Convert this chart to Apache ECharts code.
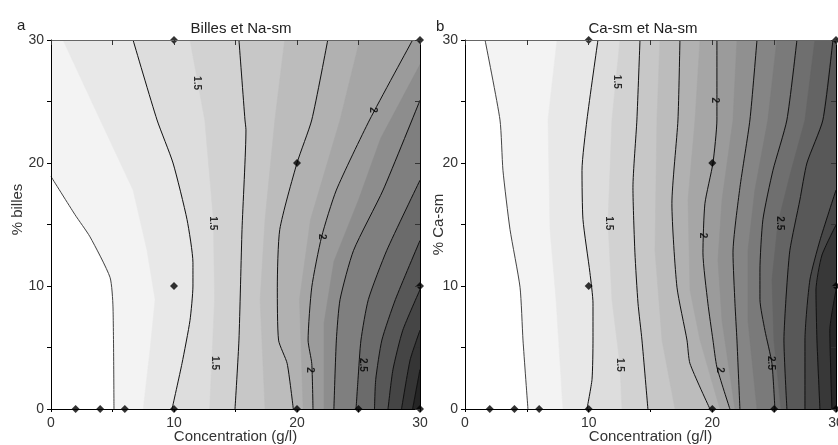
<!DOCTYPE html>
<html>
<head>
<meta charset="utf-8">
<script src="https://cdn.jsdelivr.net/npm/echarts@6/dist/echarts.min.js"></script>
<style>html,body{margin:0;padding:0;background:#fff}#c{width:838px;height:445px}</style>
</head>
<body>
<div id="c"></div>
<script>
// ---------- Panel a : Billes et Na-sm (contour boundaries, data coords [conc, %]) ----------
const aL1 = [[0,18.9],[1.95,15.8],[3.17,14.0],[4.8,10.7],[5.04,8.3],[5.12,0]];
const aB1 = [[0.98,30],[4.0,23.5],[6.67,17.8],[7.8,12.9],[8.46,8.9],[8.05,4.8],[7.5,0]];
const aL2 = [[6.67,30],[8.62,23.5],[9.92,20.0],[11.06,15.4],[11.54,11.9],[11.54,10.0],[11.3,7.2],[10.65,3.7],[9.84,0]];
const aB2 = [[11.3,30],[12.5,23.5],[13.2,15.4],[13.3,8.9],[12.9,0]];
const aL3 = [[15.28,30],[15.77,23.5],[15.85,22.7],[15.53,14.6],[15.28,5.6],[14.96,0]];
const aB3 = [[19.0,30],[18.2,23.5],[17.4,15.4],[17.0,8.9],[17.4,0]];
const aL4 = [[22.5,30],[21.2,23.5],[20.0,20.0],[18.6,14.6],[18.4,9.9],[18.5,5.6],[19.2,3.7],[19.7,0]];
const aB4 = [[25.1,30],[23.5,23.5],[21.1,15.4],[20.2,8.9],[20.5,0]];
const aL5 = [[29.4,30],[25.9,23.5],[23.2,17.8],[22.0,14.0],[21.2,9.9],[20.9,5.6],[21.2,3.7],[21.3,0]];
const aB5 = [[30,28.0],[26.8,22.0],[25.0,17.0],[23.0,12.0],[22.2,7.0],[22.2,0]];
const aL6 = [[30,25.1],[27.0,17.8],[24.6,12.9],[23.5,8.9],[23.2,5.6],[23.0,0]];
const aL7 = [[30,18.6],[27.3,12.9],[25.8,8.9],[25.2,5.6],[24.96,2.4],[24.8,0]];
const aL8 = [[30,13.7],[28.0,8.9],[26.9,5.6],[26.4,2.4],[26.3,0]];
const aL9 = [[30,9.7],[28.6,6.4],[27.8,3.2],[27.4,0]];
const aL10 = [[30,6.4],[29.2,4.0],[28.5,0]];
const aL11 = [[30,3.2],[29.4,0]];
const aLabelPts = [[11.87,26.5],[13.17,15.1],[13.33,3.74],[26.18,24.3],[22.03,14.0],[21.06,3.17],[25.37,3.58]];
const aLabelTexts = ['1.5','1.5','1.5','2','2','2','2.5'];
const aPoints = [[2,0],[4,0],[6,0],[10,0],[20,0],[25,0],[30,0],[10,10],[30,10],[20,20],[10,30],[30,30]];

// ---------- Panel b : Ca-sm et Na-sm ----------
const bP1 = [[1.62,30],[2.83,23.5],[3.07,19.4],[3.64,14.6],[4.45,9.9],[4.69,5.6],[5.09,0]];
const bQ1 = [[7.44,30],[6.71,23.5],[6.87,14.6],[7.36,8.9],[7.92,0]];
const bP2 = [[10.75,30],[9.86,23.5],[9.46,19.4],[9.54,15.4],[10.1,11.1],[10.35,8.6],[10.35,5.6],[10.27,2.4],[9.86,0]];
const bQ2 = [[12.53,30],[11.88,23.5],[11.56,15.2],[11.88,8.9],[12.53,3.6],[12.69,0]];
const bP3 = [[14.15,30],[13.9,23.5],[13.58,18.0],[13.74,12.7],[13.99,8.6],[14.31,5.6],[14.79,0]];
const bQ3 = [[15.76,30],[15.52,23.5],[15.36,12.9],[15.93,5.6],[16.98,0]];
const bP4 = [[17.38,30],[17.22,23.5],[16.73,16.7],[17.14,9.9],[17.95,5.6],[18.19,3.7],[19.81,0]];
const bQ4 = [[19.0,30],[18.6,23.5],[18.03,17.0],[18.19,9.67],[19.0,5.6],[20.61,0]];
const bP5 = [[20.37,30],[20.37,23.5],[20.05,20],[19.4,16.7],[19.24,12.7],[19.64,8.6],[20.05,5.6],[20.37,3.4],[21.42,0]];
const bQ5 = [[21.99,30],[21.67,23.5],[20.78,17.0],[20.45,12.1],[20.78,7.2],[21.83,0]];
const bP6 = [[23.61,30],[23.04,23.5],[22.23,18.0],[21.67,12.7],[21.83,8.6],[21.99,5.6],[22.23,0]];
const bQ6 = [[25.22,30],[24.49,23.5],[23.44,17.8],[22.88,12.9],[22.88,7.2],[23.61,0]];
const bP7 = [[26.84,30],[26.03,23.5],[24.9,19.4],[24.09,15.4],[23.85,11.3],[23.85,8.9],[24.25,6.4],[24.82,3.7],[25.06,0]];
const bQ7 = [[28.29,30],[27.49,23.5],[26.27,19.0],[25.3,15.1],[24.82,10.5],[24.98,5.6],[25.55,0]];
const bP8 = [[29.75,30],[28.94,23.5],[27.65,20.0],[27.08,17.0],[26.27,12.9],[25.95,8.9],[25.79,5.6],[26.03,0]];
const bP9 = [[30,17.8],[28.7,13.7],[27.89,10.5],[27.49,5.6],[27.49,0]];
const bP10 = [[30,14.96],[28.86,12.5],[28.38,9.67],[28.46,5.6],[28.7,0]];
const bP11 = [[30,9.67],[29.5,6.4],[29.67,0]];
const bLabelPts = [[12.29,26.6],[11.64,15.1],[12.53,3.58],[20.21,25.1],[19.24,14.1],[20.61,3.17],[25.47,15.1],[24.74,3.74]];
const bLabelTexts = ['1.5','1.5','1.5','2','2','2','2.5','2.5'];
const bPoints = [[2,0],[4,0],[6,0],[10,0],[20,0],[25,0],[30,0],[10,10],[30,10],[20,20],[10,30],[30,30]];

const xTickLabels = [0,10,20,30];
const yTickLabels = [0,10,20,30];

// ---------- styles (separate from data) ----------
const aCurves = [aL1,aB1,aL2,aB2,aL3,aB3,aL4,aB4,aL5,aB5,aL6,aL7,aL8,aL9,aL10,aL11];
const aDrawn  = [1,0,1,0,1,0,1,0,1,0,1,1,1,1,1,1];
const aFills  = ['#f3f3f3','#e8e8e8','#dddddd','#d2d2d2','#c7c7c7','#bcbcbc','#b1b1b1','#a6a6a6','#9b9b9b','#8d8d8d','#7f7f7f','#6b6b6b','#575757','#454545','#353535','#252525'];
const bCurves = [bP1,bQ1,bP2,bQ2,bP3,bQ3,bP4,bQ4,bP5,bQ5,bP6,bQ6,bP7,bQ7,bP8,bP9,bP10,bP11];
const bDrawn  = [1,0,1,0,1,0,1,0,1,0,1,0,1,0,1,1,1,1];
const bFills  = ['#f3f3f3','#e8e8e8','#dddddd','#d2d2d2','#c7c7c7','#bcbcbc','#b1b1b1','#a6a6a6','#9b9b9b','#909090','#858585','#7a7a7a','#6f6f6f','#646464','#585858','#484848','#383838','#282828'];

const MAXV = 30;
function perim(p){
  const x=p[0], y=p[1], e=1e-9;
  if (y<=e) return x;
  if (x>=MAXV-e) return MAXV+y;
  if (y>=MAXV-e) return 2*MAXV+(MAXV-x);
  return 3*MAXV+(MAXV-y);
}
const cornerAt = {30:[30,0],60:[30,30],90:[0,30],0:[0,0]};
function closePoly(pts){
  const s=pts[0], e=pts[pts.length-1];
  let tE=perim(e), tS=perim(s);
  if (tS<=tE) tS+=120;
  const out=pts.slice();
  for (let c=30;c<tS;c+=30){ if (c>tE) out.push(cornerAt[c%120]); }
  return out;
}

const FONT = '"Liberation Sans", Arial, sans-serif';

function panelSeries(gi, curves, drawn, fills, labelPts, labelTexts, points){
  const polys = curves.map(closePoly);
  const series = [];
  series.push({
    type:'custom', xAxisIndex:gi*2, yAxisIndex:gi*2, z:1, silent:true, clip:true,
    data: polys.map((_,i)=>[i]),
    renderItem:(params, api)=>{
      const i = api.value(0);
      return {type:'polygon', shape:{points: polys[i].map(p=>api.coord(p))}, style:{fill: fills[i], stroke: fills[i], lineWidth:0.5}};
    }
  });
  curves.forEach((c,i)=>{
    if (!drawn[i]) return;
    series.push({type:'line', xAxisIndex:gi*2, yAxisIndex:gi*2, data:c, symbol:'none', silent:true, z:3, smooth:0.2,
      lineStyle:{color: i===0 ? '#444' : '#111', width:1}});
  });
  series.push({type:'scatter', xAxisIndex:gi*2, yAxisIndex:gi*2, data:labelPts, symbolSize:0, z:4, silent:true,
    label:{show:true, position:'inside', rotate:-90, formatter:p=>labelTexts[p.dataIndex], fontSize:10, fontWeight:'bold', color:'#000', fontFamily:FONT}});
  series.push({type:'scatter', xAxisIndex:gi*2, yAxisIndex:gi*2, data:points, symbol:'diamond', symbolSize:8, z:5, clip:false, silent:true,
    itemStyle:{color:'#000'}});
  return series;
}

function bottomX(gi){
  return {gridIndex:gi, type:'value', min:0, max:30, interval:5, z:10,
    axisLine:{show:true, onZero:false, lineStyle:{color:'#000', width:1}},
    axisTick:{show:true, length:3, lineStyle:{color:'#000'}},
    axisLabel:{formatter:v=> xTickLabels.includes(v) ? String(v) : '', fontSize:14, color:'#333', margin:7, fontFamily:FONT},
    splitLine:{show:false},
    name:'Concentration (g/l)', nameLocation:'middle', nameGap:20, nameMoveOverlap:false,
    nameTextStyle:{fontSize:15, color:'#333', fontFamily:FONT}};
}
function topX(gi){
  return {gridIndex:gi, type:'value', position:'top', min:0, max:30, interval:5, z:10,
    axisLine:{show:true, onZero:false, lineStyle:{color:'#666', width:1}},
    axisTick:{show:true, inside:true, length:5, lineStyle:{color:'#333'}},
    axisLabel:{show:false}, splitLine:{show:false}};
}
function leftY(gi, name, gap, pad){
  return {gridIndex:gi, type:'value', min:0, max:30, interval:5, z:10,
    axisLine:{show:true, onZero:false, lineStyle:{color:'#000', width:1}},
    axisTick:{show:true, length:4, lineStyle:{color:'#000'}},
    axisLabel:{formatter:v=> yTickLabels.includes(v) ? String(v) : '', fontSize:14, color:'#333', margin:7, fontFamily:FONT},
    splitLine:{show:false},
    name:name, nameLocation:'middle', nameGap:gap, nameMoveOverlap:false,
    nameTextStyle:{fontSize:15, color:'#333', fontFamily:FONT, padding:pad}};
}
function rightY(gi){
  return {gridIndex:gi, type:'value', position:'right', min:0, max:30, interval:5, z:10,
    axisLine:{show:true, onZero:false, lineStyle:{color:'#000', width:1}},
    axisTick:{show:true, inside:true, length:5, lineStyle:{color:'#333'}},
    axisLabel:{show:false}, splitLine:{show:false}};
}

const chart = echarts.init(document.getElementById('c'), null, {renderer:'canvas'});
chart.setOption({
  animation:false,
  backgroundColor:'#fff',
  title:[
    {text:'Billes et Na-sm', left:236, top:16, textAlign:'center', textStyle:{fontSize:15, fontWeight:'normal', color:'#222', fontFamily:FONT}},
    {text:'Ca-sm et Na-sm', left:638, top:16, textAlign:'center', textStyle:{fontSize:15, fontWeight:'normal', color:'#222', fontFamily:FONT}},
    {text:'a', left:12, top:13, textStyle:{fontSize:15, fontWeight:'normal', color:'#222', fontFamily:FONT}},
    {text:'b', left:431, top:14, textStyle:{fontSize:15, fontWeight:'normal', color:'#222', fontFamily:FONT}}
  ],
  grid:[
    {left:51, right:418, top:40, bottom:36, outerBoundsMode:'none'},
    {left:465, right:2, top:40, bottom:36, outerBoundsMode:'none'}
  ],
  xAxis:[bottomX(0), topX(0), bottomX(1), topX(1)],
  yAxis:[leftY(0,'% billes',26,[0,0,0,30]), rightY(0), leftY(1,'% Ca-sm',19,[0,0,0,0]), rightY(1)],
  series:[
    ...panelSeries(0, aCurves, aDrawn, aFills, aLabelPts, aLabelTexts, aPoints),
    ...panelSeries(1, bCurves, bDrawn, bFills, bLabelPts, bLabelTexts, bPoints)
  ]
});
</script>
</body>
</html>
